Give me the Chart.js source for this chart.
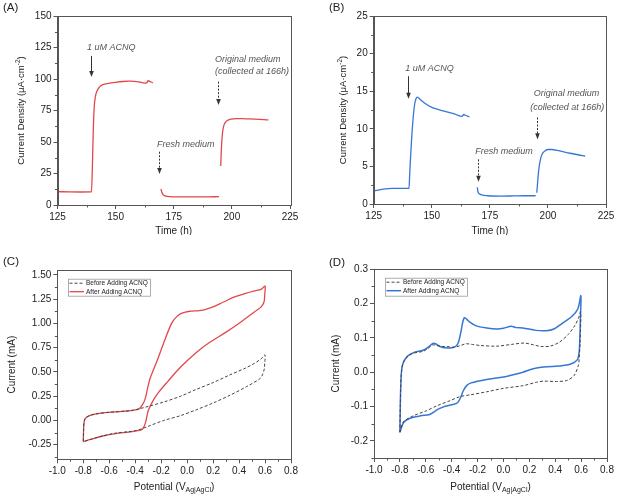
<!DOCTYPE html>
<html>
<head>
<meta charset="utf-8">
<script src="https://cdn.jsdelivr.net/npm/chart.js@4.4.1/dist/chart.umd.min.js"></script>
<style>
  html, body { margin: 0; padding: 0; background: #fff; }
  #wrap { position: relative; width: 617px; height: 496px; overflow: hidden; }
  canvas { position: absolute; }
</style>
</head>
<body>
<div id="wrap">
  <canvas id="cA" width="305" height="235" style="left:0;top:0"></canvas>
  <canvas id="cB" width="309" height="235" style="left:308px;top:0"></canvas>
  <canvas id="cC" width="305" height="261" style="left:0;top:235px"></canvas>
  <canvas id="cD" width="309" height="261" style="left:308px;top:235px"></canvas>
</div>
<script>
const FONT = '"Liberation Sans", Arial, sans-serif';
const RED = "#e3474a", BLUE = "#3676d6", GREY = "#444";

// (A) current density over time, null = break between media
const timeA = [125, 130, 135, 139.6, 140.0, 140.4, 140.8, 141.3, 142, 143, 144.5, 147, 150, 153, 156, 160, 162.5, 163.3, 164, 165, 166,
  null,
  169.5, 169.8, 170.3, 171, 172, 175, 180, 185, 190, 194.5,
  null,
  195.2, 195.5, 195.9, 196.4, 197, 198, 199.5, 202, 206, 210, 215.7];
const densA = [10.6, 10.4, 10.3, 10.4, 30, 60, 78, 86, 90.5, 93.5, 95.5, 96.6, 97.4, 98.0, 98.3, 97.8, 96.7, 96.9, 98.6, 97.8, 97.0,
  null,
  12.7, 10.5, 8.5, 7.4, 6.9, 6.5, 6.4, 6.4, 6.5, 6.6,
  null,
  31, 45, 56, 62, 65, 67, 68.2, 68.6, 68.4, 68.2, 67.6];

// (B)
const timeB = [125, 127, 130, 133, 136, 140.2, 140.5, 141, 141.5, 142, 142.6, 143.2, 143.8, 145, 147, 150, 153, 156.5, 160, 163, 163.8, 164.5, 166.2,
  null,
  169.6, 169.9, 170.5, 171.5, 174, 180, 185, 190, 194.7,
  null,
  195.2, 195.6, 196.0, 196.5, 197.3, 198.5, 200, 201.5, 205, 209.5, 213, 216];
const densB = [1.75, 1.85, 2.0, 2.07, 2.08, 2.08, 4.0, 7.0, 9.5, 11.5, 13.2, 14.0, 14.2, 13.9, 13.4, 12.85, 12.55, 12.25, 11.95, 11.65, 11.9, 11.8, 11.6,
  null,
  2.2, 1.6, 1.35, 1.2, 1.1, 1.05, 1.07, 1.1, 1.1,
  null,
  1.5, 3.0, 4.4, 5.5, 6.5, 7.0, 7.25, 7.25, 7.05, 6.75, 6.55, 6.35];

// (C) cyclic voltammograms
const potC0 = [-0.80, -0.798, -0.795, -0.785, -0.76, -0.71, -0.61, -0.50, -0.42, -0.37, -0.30, -0.18, -0.05, 0.07, 0.20, 0.33, 0.45, 0.52, 0.57, 0.60,
  0.598, 0.594, 0.58, 0.56, 0.46, 0.33, 0.20, 0.07, -0.05, -0.18, -0.30, -0.36, -0.40, -0.45, -0.55, -0.65, -0.73, -0.78, -0.80];
const curC0 = [-0.215, -0.12, -0.03, 0.02, 0.045, 0.065, 0.083, 0.094, 0.105, 0.12, 0.145, 0.19, 0.25, 0.32, 0.39, 0.47, 0.54, 0.59, 0.635, 0.675,
  0.60, 0.53, 0.47, 0.43, 0.35, 0.26, 0.18, 0.11, 0.05, 0.0, -0.06, -0.09, -0.105, -0.115, -0.13, -0.16, -0.19, -0.21, -0.218];
const potC1 = [-0.80, -0.798, -0.795, -0.785, -0.76, -0.71, -0.61, -0.50, -0.42, -0.37, -0.345, -0.324, -0.305, -0.286, -0.26, -0.23, -0.18, -0.12, -0.08, -0.04, 0.02, 0.08, 0.13, 0.20, 0.28, 0.36, 0.45, 0.52, 0.57, 0.60,
  0.598, 0.592, 0.57, 0.52, 0.42, 0.30, 0.18, 0.08, -0.05, -0.15, -0.22, -0.26, -0.30, -0.32, -0.345, -0.39, -0.45, -0.55, -0.65, -0.73, -0.78, -0.80];
const curC1 = [-0.215, -0.12, -0.03, 0.02, 0.045, 0.065, 0.083, 0.094, 0.105, 0.12, 0.16, 0.22, 0.33, 0.43, 0.52, 0.62, 0.80, 1.0, 1.07, 1.105, 1.125, 1.13, 1.14, 1.17, 1.22, 1.27, 1.31, 1.335, 1.35, 1.385,
  1.30, 1.22, 1.17, 1.12, 1.02, 0.91, 0.81, 0.71, 0.55, 0.40, 0.29, 0.21, 0.10, -0.02, -0.09, -0.108, -0.12, -0.135, -0.16, -0.19, -0.21, -0.22];

// (D)
const potD0 = [-0.80, -0.797, -0.794, -0.788, -0.775, -0.74, -0.69, -0.62, -0.58, -0.545, -0.52, -0.47, -0.44, -0.38, -0.33, -0.29, -0.24, -0.18, -0.05, 0.08, 0.16, 0.23, 0.29, 0.36, 0.43, 0.50, 0.55, 0.58, 0.597,
  0.592, 0.585, 0.579, 0.545, 0.49, 0.41, 0.31, 0.257, 0.154, 0.0, -0.129, -0.258, -0.335, -0.413, -0.516, -0.593, -0.696, -0.773, -0.80];
const curD0 = [-0.175, -0.10, -0.05, 0.0, 0.027, 0.047, 0.056, 0.061, 0.07, 0.08, 0.078, 0.075, 0.075, 0.073, 0.078, 0.083, 0.081, 0.078, 0.076, 0.082, 0.085, 0.080, 0.075, 0.076, 0.087, 0.11, 0.135, 0.158, 0.176,
  0.088, 0.04, 0.020, -0.010, -0.024, -0.027, -0.026, -0.029, -0.039, -0.047, -0.057, -0.066, -0.071, -0.083, -0.098, -0.112, -0.127, -0.145, -0.175];
const potD1 = [-0.80, -0.797, -0.794, -0.788, -0.775, -0.74, -0.69, -0.62, -0.58, -0.545, -0.525, -0.49, -0.45, -0.40, -0.37, -0.35, -0.33, -0.315, -0.302, -0.285, -0.26, -0.21, -0.13, -0.05, 0.0, 0.06, 0.10, 0.15, 0.25, 0.33, 0.39, 0.46, 0.53, 0.575, 0.598,
  0.594, 0.590, 0.585, 0.57, 0.52, 0.45, 0.31, 0.23, 0.15, 0.10, 0.0, -0.13, -0.25, -0.285, -0.31, -0.33, -0.355, -0.40, -0.45, -0.50, -0.53, -0.57, -0.64, -0.72, -0.77, -0.80];
const curD1 = [-0.175, -0.10, -0.05, 0.0, 0.027, 0.047, 0.058, 0.064, 0.073, 0.084, 0.083, 0.075, 0.071, 0.071, 0.075, 0.085, 0.115, 0.145, 0.159, 0.155, 0.146, 0.135, 0.129, 0.126, 0.128, 0.134, 0.130, 0.129, 0.122, 0.121, 0.126, 0.144, 0.163, 0.185, 0.223,
  0.15, 0.10, 0.06, 0.036, 0.024, 0.019, 0.015, 0.010, 0.0, -0.005, -0.014, -0.021, -0.031, -0.039, -0.054, -0.073, -0.089, -0.095, -0.099, -0.107, -0.114, -0.123, -0.127, -0.134, -0.146, -0.175];

const legendNames = ["Before Adding ACNQ", "After Adding ACNQ"];

const pts = (xs, ys) => xs.map((x, i) => ({ x: x, y: ys[i] }));
const fmt = d => v => (Math.abs(v) < 1e-9 ? 0 : v).toFixed(d);

function rich(ctx, parts, x, y, rot) {
  ctx.save();
  ctx.translate(x, y);
  ctx.rotate(rot || 0);
  let w = 0;
  parts.forEach(p => { ctx.font = p.f; p.w = ctx.measureText(p.t).width; w += p.w; });
  let cx = -w / 2;
  ctx.textBaseline = "middle";
  ctx.textAlign = "left";
  ctx.fillStyle = "#222";
  parts.forEach(p => { ctx.font = p.f; ctx.fillText(p.t, cx, p.dy || 0); cx += p.w; });
  ctx.restore();
}

function arrow(ctx, x, y1, y2, dashed) {
  ctx.save();
  ctx.strokeStyle = ctx.fillStyle = "#333";
  ctx.lineWidth = 1;
  if (dashed) ctx.setLineDash([2, 1.5]);
  ctx.beginPath(); ctx.moveTo(x, y1); ctx.lineTo(x, y2 - 5); ctx.stroke();
  ctx.setLineDash([]);
  ctx.beginPath(); ctx.moveTo(x - 2.3, y2 - 6); ctx.lineTo(x + 2.3, y2 - 6); ctx.lineTo(x, y2); ctx.closePath(); ctx.fill();
  ctx.restore();
}

const deco = {
  id: "deco",
  afterDraw(chart, args, o) {
    const ctx = chart.ctx, a = chart.chartArea, xs = chart.scales.x, ys = chart.scales.y;
    ctx.save();
    // minor ticks
    ctx.strokeStyle = "#555"; ctx.lineWidth = 1;
    const minor = (sc, step, major, horiz) => {
      for (let v = Math.ceil(sc.min / step - 1e-9) * step; v <= sc.max + 1e-9; v += step) {
        const r = v / major;
        if (Math.abs(r - Math.round(r)) < 1e-6) continue;
        const p = Math.round(sc.getPixelForValue(v)) + 0.5;
        ctx.beginPath();
        if (horiz) { ctx.moveTo(p, a.bottom); ctx.lineTo(p, a.bottom + 2.5); }
        else { ctx.moveTo(a.left, p); ctx.lineTo(a.left - 2.5, p); }
        ctx.stroke();
      }
    };
    minor(xs, o.minor[0], o.major[0], true);
    minor(ys, o.minor[1], o.major[1], false);
    // frame
    ctx.strokeStyle = "#555";
    ctx.strokeRect(Math.round(a.left) + 0.5, Math.round(a.top) + 0.5, Math.round(a.right - a.left), Math.round(a.bottom - a.top));
    // panel letter
    ctx.fillStyle = "#222"; ctx.font = "11.5px " + FONT; ctx.textBaseline = "middle"; ctx.textAlign = "left";
    ctx.fillText(o.letter[0], o.letter[1], o.letter[2]);
    // axis titles
    rich(ctx, o.xTitle, (a.left + a.right) / 2, o.xTitleY, 0);
    rich(ctx, o.yTitle, o.yTitleX, (a.top + a.bottom) / 2, -Math.PI / 2);
    // notes with arrows
    (o.notes || []).forEach(n => {
      ctx.fillStyle = "#555"; ctx.font = "italic 9px " + FONT; ctx.textAlign = "left"; ctx.textBaseline = "middle";
      ctx.fillText(n.text, xs.getPixelForValue(n.x), ys.getPixelForValue(n.y));
    });
    (o.arrows || []).forEach(r => {
      arrow(ctx, Math.round(xs.getPixelForValue(r.x)) + 0.5, ys.getPixelForValue(r.y1), ys.getPixelForValue(r.y2), r.dashed);
    });
    // legend box
    if (o.legend) {
      const L = o.legend;
      ctx.strokeStyle = "#999"; ctx.lineWidth = 0.8;
      ctx.strokeRect(L.l + 0.5, L.t + 0.5, L.w, L.h);
      chart.data.datasets.forEach((ds, i) => {
        const y = L.t + 4.5 + i * 8.5;
        ctx.save();
        ctx.strokeStyle = ds.borderColor; ctx.lineWidth = ds.borderWidth;
        ctx.setLineDash(ds.borderDash || []);
        ctx.beginPath(); ctx.moveTo(L.l + 1.5, y); ctx.lineTo(L.l + 16, y); ctx.stroke();
        ctx.restore();
        ctx.fillStyle = "#222"; ctx.font = "6.5px " + FONT; ctx.textAlign = "left"; ctx.textBaseline = "middle";
        ctx.fillText(ds.label, L.l + 18, y + 0.3);
      });
    }
    ctx.restore();
  }
};

Chart.defaults.font.family = FONT;
Chart.defaults.font.size = 10;
Chart.defaults.color = "#222";

function axis(min, max, step, dec, fixSize, horiz) {
  return {
    type: "linear", min: min, max: max,
    ticks: { stepSize: step, autoSkip: false, maxRotation: 0, padding: 2,
      callback: dec == null ? undefined : fmt(dec), color: "#222", font: { size: 10 } },
    grid: { drawOnChartArea: false, drawTicks: true, tickLength: 4, color: "#555", tickColor: "#555" },
    border: { display: true, color: "#555", width: 1 },
    // major ticks at whole multiples of the step, without float drift
    afterBuildTicks: s => {
      const t = [];
      for (let k = Math.ceil(min / step - 1e-6); k <= Math.floor(max / step + 1e-6); k++) t.push({ value: Math.round(k * step * 1e6) / 1e6 });
      s.ticks = t;
    },
    afterFit: s => { if (horiz) s.height = fixSize; else s.width = fixSize; }
  };
}

function makeChart(id, w, h, area, datasets, sx, sy, deco_opts) {
  return new Chart(document.getElementById(id), {
    type: "scatter",
    data: { datasets: datasets },
    options: {
      responsive: false, animation: false,
      layout: { padding: { left: 0, top: area.t, right: w - area.r, bottom: 0 } },
      scales: { x: axis(sx[0], sx[1], sx[2], sx[3], h - area.b, true), y: axis(sy[0], sy[1], sy[2], sy[3], area.l, false) },
      plugins: { legend: { display: false }, tooltip: { enabled: false }, deco: deco_opts }
    },
    plugins: [deco]
  });
}

const tsLine = (xs, ys, color) => ({
  data: pts(xs, ys), showLine: true, borderColor: color, borderWidth: 1.3, pointRadius: 0,
  cubicInterpolationMode: "monotone", spanGaps: false
});
const cvLine = (label, xs, ys, color, width, dash) => ({
  label: label, data: pts(xs, ys), showLine: true, borderColor: color, borderWidth: width, pointRadius: 0,
  tension: 0.3, borderDash: dash
});

const densTitle = [{ t: "Current Density (\u03bcA\u00b7cm", f: "9.5px " + FONT }, { t: "-2", f: "6.5px " + FONT, dy: -3 }, { t: ")", f: "9.5px " + FONT }];
const timeTitle = [{ t: "Time (h)", f: "10px " + FONT }];
const potTitle = [{ t: "Potential (V", f: "10px " + FONT }, { t: "Ag|AgCl", f: "7px " + FONT, dy: 3 }, { t: ")", f: "10px " + FONT }];
const curTitle = [{ t: "Current (mA)", f: "10px " + FONT }];

makeChart("cA", 305, 235, { l: 57.5, t: 16, r: 290, b: 205 }, [tsLine(timeA, densA, RED)],
  [125, 225, 25], [0, 150, 25],
  { minor: [12.5, 12.5], major: [25, 25], letter: ["(A)", 3, 8], xTitle: timeTitle, xTitleY: 231, yTitle: densTitle, yTitleX: 21,
    notes: [{ text: "1 uM ACNQ", x: 137.7, y: 124.8 }, { text: "Fresh medium", x: 167.8, y: 48.2 },
            { text: "Original medium", x: 192.7, y: 115.1 }, { text: "(collected at 166h)", x: 192.7, y: 105.8 }],
    arrows: [{ x: 139.3, y1: 118.3, y2: 101.6 }, { x: 168.7, y1: 42.3, y2: 24.6, dashed: true }, { x: 194.2, y1: 97.9, y2: 79.4, dashed: true }] });

makeChart("cB", 309, 235, { l: 65.7, t: 16, r: 298, b: 204 }, [tsLine(timeB, densB, BLUE)],
  [125, 225, 25], [0, 25, 5],
  { minor: [12.5, 2.5], major: [25, 5], letter: ["(B)", 21, 8], xTitle: timeTitle, xTitleY: 231, yTitle: densTitle, yTitleX: 35,
    notes: [{ text: "1 uM ACNQ", x: 138.6, y: 18.05 }, { text: "Fresh medium", x: 168.7, y: 6.95 },
            { text: "Original medium", x: 193.9, y: 14.63 }, { text: "(collected at 166h)", x: 192.4, y: 12.86 }],
    arrows: [{ x: 139.8, y1: 17.0, y2: 14.0 }, { x: 169.8, y1: 5.94, y2: 2.97, dashed: true }, { x: 195.2, y1: 11.5, y2: 8.6, dashed: true }] });

makeChart("cC", 305, 261, { l: 57.3, t: 35, r: 291, b: 224.3 },
  [cvLine(legendNames[0], potC0, curC0, GREY, 1, [3, 2]), cvLine(legendNames[1], potC1, curC1, RED, 1.3)],
  [-1.0, 0.8, 0.2, 1], [-0.4, 1.55, 0.25, 2],
  { minor: [0.1, 0.125], major: [0.2, 0.25], letter: ["(C)", 3, 27], xTitle: potTitle, xTitleY: 252, yTitle: curTitle, yTitleX: 12,
    legend: { l: 68, t: 43.7, w: 82, h: 17 } });

makeChart("cD", 309, 261, { l: 66, t: 34.3, r: 299, b: 223 },
  [cvLine(legendNames[0], potD0, curD0, GREY, 1, [3, 2]), cvLine(legendNames[1], potD1, curD1, BLUE, 1.5)],
  [-1.0, 0.8, 0.2, 1], [-0.25, 0.3, 0.1, 1],
  { minor: [0.1, 0.05], major: [0.2, 0.1], letter: ["(D)", 21, 28], xTitle: potTitle, xTitleY: 252, yTitle: curTitle, yTitleX: 28,
    legend: { l: 77, t: 42.7, w: 82, h: 18 } });
</script>
</body>
</html>
